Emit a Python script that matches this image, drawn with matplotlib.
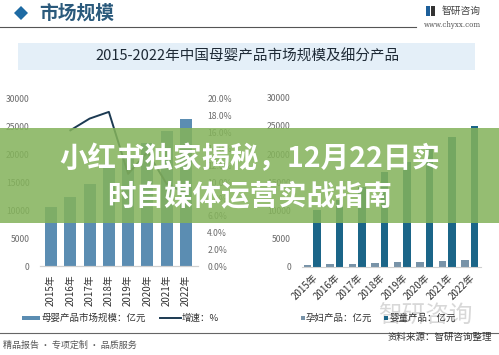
import matplotlib
matplotlib.use("Agg")
import matplotlib.pyplot as plt
from matplotlib.patches import Rectangle, Polygon
from matplotlib.lines import Line2D

plt.rcParams['font.family'] = ['Noto Sans CJK SC', 'DejaVu Sans']

# ---- data ----
years = ['2015年', '2016年', '2017年', '2018年', '2019年', '2020年', '2021年', '2022年']
market_size = [10590, 12380, 14640, 17500, 19400, 22100, 24160, 26250]   # 亿元
growth_years = years[1:]
growth = [16.2, 17.6, 18.4, 11.0, 13.6, 9.8, 8.7]                        # %
maternal = [430, 450, 540, 660, 840, 960, 1070, 1250]                     # 孕妇产品 亿元
infant = [10160, 11930, 14100, 16840, 18560, 21140, 23090, 25000]        # 婴童产品 亿元
left_ticks = [0, 5000, 10000, 15000, 20000, 25000, 30000]
right_pct_ticks = [0, 2, 4, 6, 8, 10, 12, 14, 16, 18, 20]

W, H = 499, 355
fig = plt.figure(figsize=(W / 100, H / 100), dpi=100)
fig.patch.set_facecolor('white')

def fx(px):
    return px / W

def fy(py):
    return 1 - py / H

def ax_rect(l, t, r, b):
    return [fx(l), fy(b), (r - l) / W, (b - t) / H]

grey = '#6b6b6b'
bar_left = '#5b8db2'
line_col = '#1c3a52'
tall_col = '#1b6588'
small_col = '#7893a8'

# ---- header ----
fig.add_artist(Polygon([[fx(14), fy(13)], [fx(21), fy(6)], [fx(28), fy(13)], [fx(21), fy(20)]],
                       closed=True, transform=fig.transFigure, facecolor='#1d6aa3', edgecolor='none'))
fig.text(fx(39), fy(13), '市场规模', fontsize=13.5, color='#2b5a7c', va='center', ha='left', fontweight='bold')
fig.add_artist(Line2D([0, fx(416)], [fy(27), fy(27)], color='#555555', lw=0.8, transform=fig.transFigure))
fig.add_artist(Rectangle((fx(426), fy(16)), 4 / W, 10 / H, transform=fig.transFigure, facecolor='#1d5f9a', edgecolor='none'))
fig.add_artist(Rectangle((fx(431), fy(16)), 4 / W, 10 / H, transform=fig.transFigure, facecolor='#333333', edgecolor='none'))
fig.text(fx(442), fy(11), '智研咨询', fontsize=7, color='#444444', va='center', ha='left')
fig.text(fx(424), fy(25), 'www.chyxx.com', fontsize=5, color='#555555', va='center', ha='left', family='DejaVu Serif')

# ---- title box ----
fig.add_artist(Rectangle((fx(18), fy(70)), (475 - 18) / W, 27 / H, transform=fig.transFigure,
                         facecolor='#e4eff8', edgecolor='none', zorder=0))
fig.text(fx(247), fy(56.5), '2015-2022年中国母婴产品市场规模及细分产品', fontsize=10.5,
         color='#1e2a36', va='center', ha='center')

# ---- left chart ----
axL = fig.add_axes(ax_rect(39.5, 98.5, 197.5, 266))
xs = list(range(len(years)))
axL.bar(xs, market_size, width=0.62, color=bar_left, zorder=2)
axL.set_xlim(-0.6, 7.6)
axL.set_ylim(0, 30000)
axL.set_yticks(left_ticks)
axL.set_yticklabels([str(v) for v in left_ticks])
axL.set_xticks(xs)
axL.set_xticklabels(years, rotation=90)
axR = axL.twinx()
axR.plot(xs[1:], growth, color=line_col, lw=1.4, zorder=3)
axR.set_ylim(0, 20)
axR.set_yticks(right_pct_ticks)
axR.set_yticklabels([f'{v:.1f}%' for v in right_pct_ticks])
for a in (axL, axR):
    for s in ('top', 'left', 'right'):
        a.spines[s].set_visible(False)
    a.spines['bottom'].set_color('#d0d0d0')
    a.spines['bottom'].set_linewidth(0.8)
    a.tick_params(length=0, labelsize=6.2, colors=grey)
axL.tick_params(axis='y', pad=7)
axR.tick_params(axis='y', pad=7)
axL.tick_params(axis='x', labelsize=7, colors='#333333', pad=6)
axL.patch.set_alpha(0)

# ---- right chart ----
axB = fig.add_axes(ax_rect(302, 97.7, 481, 267))
axB.bar([x - 0.21 for x in xs], maternal, width=0.33, color=small_col, zorder=2)
axB.bar([x + 0.21 for x in xs], infant, width=0.33, color=tall_col, zorder=2)
axB.set_xlim(-0.45, 7.5)
axB.set_ylim(0, 30000)
axB.set_yticks(left_ticks)
axB.set_yticklabels([str(v) for v in left_ticks])
axB.set_xticks(xs)
axB.set_xticklabels(years, rotation=45, ha='right', rotation_mode='anchor')
for s in ('top', 'left', 'right'):
    axB.spines[s].set_visible(False)
axB.spines['bottom'].set_color('#d0d0d0')
axB.spines['bottom'].set_linewidth(0.8)
axB.tick_params(length=0, labelsize=6.2, colors=grey)
axB.tick_params(axis='y', pad=8)
axB.tick_params(axis='x', labelsize=7, colors='#333333', pad=4)
axB.patch.set_alpha(0)

# ---- legends ----
fig.add_artist(Rectangle((fx(22), fy(320)), 18 / W, 4 / H, transform=fig.transFigure,
                         facecolor=bar_left, edgecolor='none'))
fig.text(fx(41), fy(318), '母婴产品市场规模：亿元', fontsize=6.8, color='#333333', va='center', ha='left')
fig.add_artist(Line2D([fx(160), fx(181)], [fy(318), fy(318)], color=line_col, lw=1.4, transform=fig.transFigure))
fig.text(fx(182), fy(318), '增速：%', fontsize=6.8, color='#333333', va='center', ha='left')
fig.add_artist(Rectangle((fx(301), fy(320)), 4 / W, 4 / H, transform=fig.transFigure,
                         facecolor=small_col, edgecolor='none'))
fig.text(fx(306), fy(318), '孕妇产品：亿元', fontsize=6.8, color='#333333', va='center', ha='left')
fig.add_artist(Rectangle((fx(384), fy(320)), 4 / W, 4 / H, transform=fig.transFigure,
                         facecolor=tall_col, edgecolor='none'))
fig.text(fx(389), fy(318), '婴童产品：亿元', fontsize=6.8, color='#333333', va='center', ha='left')

# watermark
fig.text(fx(425), fy(316), '智研咨询', fontsize=17, color='#d8d8d8', va='center', ha='center', zorder=-1)

# ---- footer ----
fig.add_artist(Line2D([0, 1], [fy(333), fy(333)], color='#666666', lw=0.8, transform=fig.transFigure))
fig.text(fx(3), fy(345), '精品报告 · 专项定制 · 品质服务', fontsize=6.5, color='#555555', va='center', ha='left')
fig.text(fx(492), fy(337), '资料来源：智研咨询整理', fontsize=6.8, color='#333333', va='center', ha='right')

# ---- overlay banner ----
fig.add_artist(Rectangle((0, fy(223)), 1, (223 - 128) / H, transform=fig.transFigure,
                         facecolor='#84b35b', edgecolor='none', alpha=0.86, zorder=10))
fig.text(0.5, fy(159), '小红书独家揭秘，12月22日实', fontsize=20.5, color='white',
         fontweight='bold', va='center', ha='center', zorder=11)
fig.text(0.5, fy(196), '时自媒体运营实战指南', fontsize=20.5, color='white',
         fontweight='bold', va='center', ha='center', zorder=11)

fig.savefig('out.png', dpi=100)
